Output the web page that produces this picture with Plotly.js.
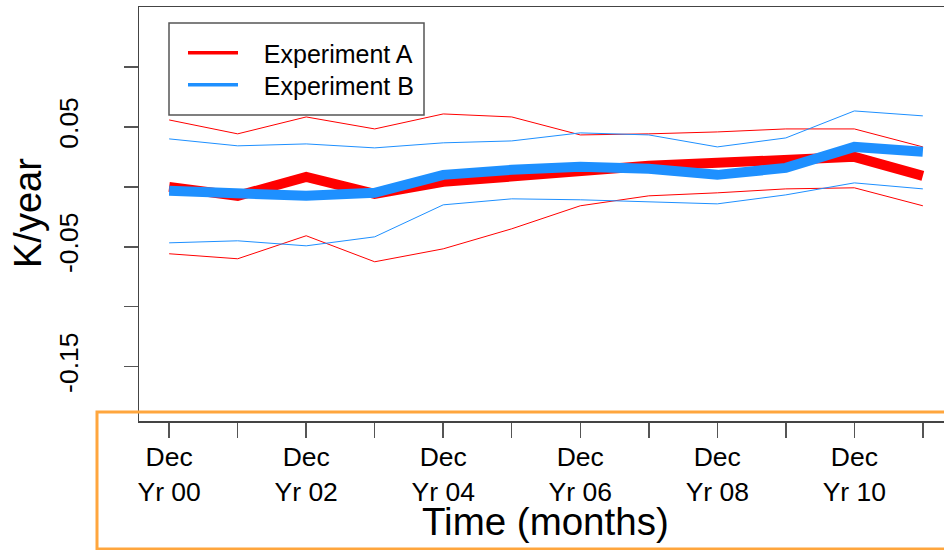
<!DOCTYPE html>
<html><head><meta charset="utf-8">
<script src="https://cdn.plot.ly/plotly-3.0.1.min.js"></script>
<style>html,body{margin:0;padding:0;overflow:hidden;background:#fff}#chart{width:960px;height:550px}</style>
</head><body><div id="chart"></div><script>
const months = ['Dec Yr 00','Dec Yr 01','Dec Yr 02','Dec Yr 03','Dec Yr 04','Dec Yr 05','Dec Yr 06','Dec Yr 07','Dec Yr 08','Dec Yr 09','Dec Yr 10','Dec Yr 11'];
const xTickText = ['Dec<br>Yr 00','','Dec<br>Yr 02','','Dec<br>Yr 04','','Dec<br>Yr 06','','Dec<br>Yr 08','','Dec<br>Yr 10',''];
const yTickVals = [-0.15,-0.10,-0.05,0,0.05,0.10];
const yTickText = ['-0.15','','-0.05','','0.05',''];

const expAMean  = [0.0, -0.0075, 0.0083, -0.0058, 0.0042, 0.0092, 0.0125, 0.0175, 0.020, 0.0225, 0.025, 0.0092];
const expAUpper = [0.0558, 0.0442, 0.0583, 0.0483, 0.0608, 0.0583, 0.0433, 0.0442, 0.0458, 0.0483, 0.0483, 0.0333];
const expALower = [-0.0558, -0.060, -0.0408, -0.0625, -0.0517, -0.035, -0.0158, -0.0075, -0.005, -0.0017, -0.0008, -0.0158];
const expBMean  = [-0.0033, -0.005, -0.0075, -0.005, 0.010, 0.0142, 0.0167, 0.015, 0.010, 0.0158, 0.0333, 0.0292];
const expBUpper = [0.040, 0.0342, 0.0358, 0.0325, 0.0367, 0.0383, 0.045, 0.0433, 0.0333, 0.0408, 0.0633, 0.0592];
const expBLower = [-0.0467, -0.045, -0.0492, -0.0417, -0.015, -0.010, -0.0108, -0.0125, -0.0142, -0.0067, 0.0033, -0.0017];

const seriesNames = ['Experiment A','Experiment B'];
const RED = '#FF0000', BLUE = '#1E90FF';
const PAD = '\u00a0\u00a0\u00a0';

function thin(y, c){ return {x: months, y: y, type:'scatter', mode:'lines', line:{color:c, width:1}, showlegend:false, hoverinfo:'skip'}; }
function thick(y, c){ return {x: months, y: y, type:'scatter', mode:'lines', line:{color:c, width:10}, showlegend:false}; }

const traces = [
  thin(expAUpper, RED), thin(expALower, RED),
  thin(expBUpper, BLUE), thin(expBLower, BLUE),
  thick(expAMean, RED), thick(expBMean, BLUE),
  {x:[null], y:[null], type:'scatter', mode:'lines', name:PAD + seriesNames[0], line:{color:RED, width:3.5}, showlegend:true, legend:'legend'},
  {x:[null], y:[null], type:'scatter', mode:'lines', name:PAD + seriesNames[1], line:{color:BLUE, width:3.5}, showlegend:true, legend:'legend2'}
];

const L = 139, R = 953, T = 7, B = 421;
const pw = R - L, ph = B - T;
const px = v => (v - L) / pw;
const py = v => (B - v) / ph;

const legendBase = {xanchor: 'left', yanchor: 'top', bgcolor: 'rgba(0,0,0,0)',
           borderwidth: 0, font: {size: 25, color: '#000'}, itemwidth: 50};

const layout = {
  width: 960, height: 550,
  margin: {l: L, r: 960 - R, t: T, b: 550 - B},
  paper_bgcolor: '#fff', plot_bgcolor: '#fff',
  font: {family: 'Liberation Sans, Arial, sans-serif', color: '#000'},
  xaxis: {
    type: 'category', categoryarray: months, range: [-0.44, 11.44],
    tickmode: 'array', tickvals: months, ticktext: xTickText, tickangle: 0,
    ticks: 'outside', ticklen: 15, tickwidth: 1.5, tickcolor: '#555',
    showline: true, mirror: true, linecolor: '#444', linewidth: 1.5,
    showgrid: false, zeroline: false, tickfont: {size: 26.5, color: '#000'},
    ticklabelstandoff: -3
  },
  yaxis: {
    range: [-0.1953, 0.15], tickmode: 'array', tickvals: yTickVals, ticktext: yTickText,
    tickangle: -90, ticks: 'outside', ticklen: 14, tickwidth: 1.5, tickcolor: '#555',
    showline: true, mirror: true, linecolor: '#444', linewidth: 1.5,
    showgrid: false, zeroline: false, tickfont: {size: 26.5, color: '#000'},
    ticklabelstandoff: 35
  },
  showlegend: true,
  legend: Object.assign({x: px(183), y: py(30)}, legendBase),
  legend2: Object.assign({x: px(183), y: py(62)}, legendBase),
  shapes: [
    {type:'rect', xref:'paper', yref:'paper', x0: px(169), x1: px(424), y0: py(115), y1: py(23), line:{color:'#555', width:1.5}, fillcolor:'rgba(0,0,0,0)'},
    {type:'rect', xref:'paper', yref:'paper', x0: px(97), x1: px(975), y0: py(549), y1: py(412), line:{color:'#FFA63D', width:3}, fillcolor:'rgba(0,0,0,0)'}
  ],
  annotations: [
    {text:'K/year', xref:'paper', yref:'paper', x: px(28), y: py(213), xanchor:'center', yanchor:'middle', textangle:-90, showarrow:false, font:{size:38, color:'#000'}},
    {text:'Time (months)', xref:'paper', yref:'paper', x: px(545), y: py(521), xanchor:'center', yanchor:'middle', showarrow:false, font:{size:38.5, color:'#000'}}
  ]
};

Plotly.newPlot('chart', traces, layout, {displayModeBar:false, staticPlot:true});
</script></body></html>
